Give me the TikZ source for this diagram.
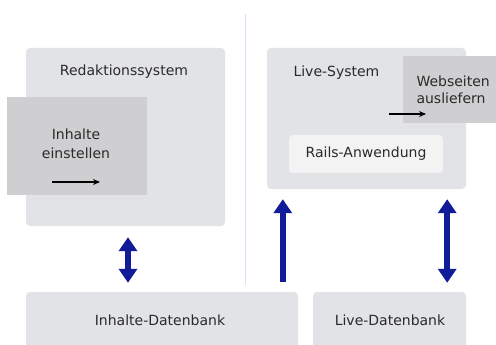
\documentclass[tikz,border=0pt]{standalone}
\usepackage{fontspec}
\setmainfont{DejaVu Sans}
\usepackage{tikz}
\usetikzlibrary{arrows.meta}
\definecolor{boxgray}{HTML}{E2E3E6}
\definecolor{darkgray}{HTML}{CFCFD1}
\definecolor{lightbox}{HTML}{F3F3F4}
\definecolor{txtgray}{HTML}{2A2A2A}
\definecolor{arrowblue}{HTML}{111C99}
\definecolor{divider}{HTML}{D8E0F8}

\begin{document}
\begin{tikzpicture}[x=1pt, y=-1pt,
    font=\fontsize{14}{19}\selectfont, text=txtgray,
    sysbox/.style={fill=boxgray, rounded corners=4pt, inner sep=0pt},
    taskbox/.style={fill=darkgray, inner sep=0pt},
    appbox/.style={fill=lightbox, rounded corners=4pt, inner sep=0pt},
    flow/.style={line width=6pt, draw=arrowblue,
      arrows={-Triangle[width=18pt, length=14pt]}},
    flowboth/.style={flow, arrows={Triangle[width=18pt, length=14pt]-Triangle[width=18pt, length=14pt]}},
    step arrow/.style={line width=1.3pt, -{Stealth[length=7pt, width=6pt]}}]
  \useasboundingbox (0,0) rectangle (496,345);

  % Trennlinie
  \draw[divider, line width=1.5pt] (245.5,14) -- (245.5,285);

  % Redaktionssystem
  \node[sysbox, minimum width=199pt, minimum height=178pt] (redak) at (125.5,137) {};
  \node (redaklbl) at (124,72) {Redaktionssystem};
  \node[taskbox, minimum width=140pt, minimum height=98pt] (einst) at (77,146) {};
  \node[align=center] (einstlbl) at (76,144) {Inhalte\\einstellen};
  \coordinate (ea) at (52,182);
  \coordinate (eb) at (100,182);
  \draw[step arrow] (ea) -- (eb);

  % Live-System
  \node[sysbox, minimum width=199pt, minimum height=141pt] (live) at (366.5,118.5) {};
  \node[anchor=west] (livelbl) at (290,73) {Live-System};
  \node[taskbox, minimum width=93pt, minimum height=67pt] (webs) at (449.5,89.5) {};
  \node[align=left, anchor=west, font=\fontsize{14}{17}\selectfont] (webslbl) at (413,90) {Webseiten\\ausliefern};
  \coordinate (wa) at (389,114);
  \coordinate (wb) at (426,114);
  \draw[step arrow] (wa) -- (wb);
  \node[appbox, minimum width=154pt, minimum height=38pt] (rails) at (366,154) {};
  \node (railslbl) at (366,154) {Rails-Anwendung};

  % Datenbanken
  \node[sysbox, minimum width=272pt, minimum height=70pt] (inhdb) at (162,327) {};
  \node (inhdblbl) at (160,320) {Inhalte-Datenbank};
  \node[sysbox, minimum width=153pt, minimum height=70pt] (livedb) at (389.5,327) {};
  \node (livedblbl) at (390,320) {Live-Datenbank};

  % Datenfluss
  \coordinate (ra) at ([xshift=2.5pt]redak.south);
  \coordinate (la) at ([xshift=16pt]live.south west);
  \coordinate (lb) at ([xshift=-19pt]live.south east);
  \draw[flowboth, shorten <=11pt, shorten >=9pt] (ra) -- (inhdb.north -| ra);
  \draw[flow, shorten <=10pt, shorten >=10pt] (inhdb.north -| la) -- (la);
  \draw[flowboth, shorten <=10pt, shorten >=9pt] (lb) -- (livedb.north -| lb);
\end{tikzpicture}
\end{document}
